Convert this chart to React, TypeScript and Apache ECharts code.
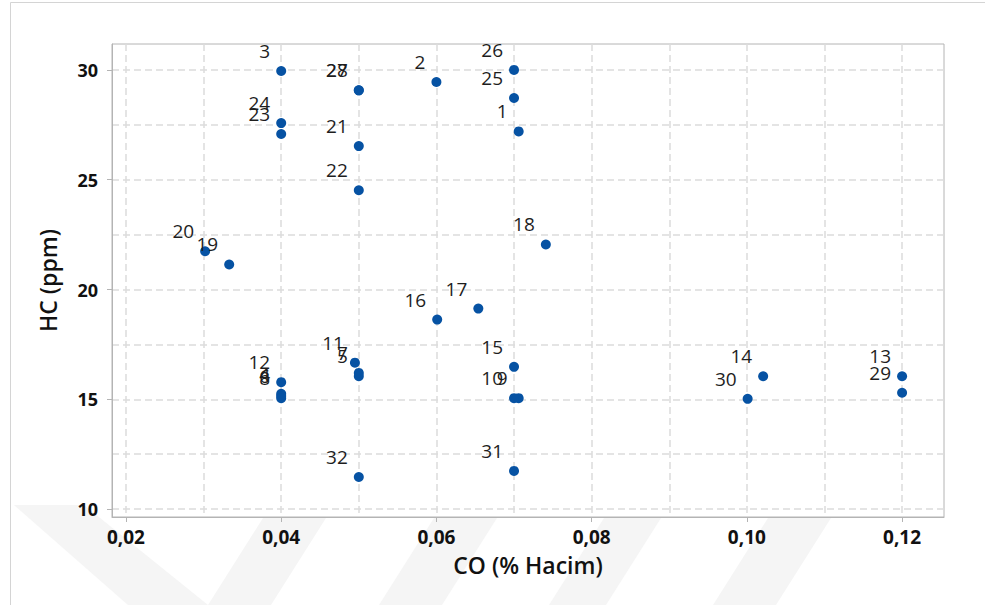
import React, { useEffect, useRef } from "react";
import * as echarts from "echarts";

const pointIds = [1, 2, 3, 4, 5, 6, 7, 8, 9, 10, 11, 12, 13, 14, 15, 16, 17, 18, 19, 20, 21, 22, 23, 24, 25, 26, 27, 28, 29, 30, 31, 32];
const coValues = [0.0706, 0.06, 0.04, 0.04, 0.05, 0.04, 0.05, 0.04, 0.0706, 0.07, 0.0495, 0.04, 0.12, 0.1021, 0.07, 0.0601, 0.0654, 0.0741, 0.0333, 0.0302, 0.05, 0.05, 0.04, 0.04, 0.07, 0.07, 0.05, 0.05, 0.12, 0.1001, 0.07, 0.05];
const hcValues = [27.2, 29.45, 29.95, 15.25, 16.05, 15.15, 16.2, 15.05, 15.05, 15.05, 16.67, 15.78, 16.05, 16.05, 16.48, 18.63, 19.13, 22.05, 21.14, 21.74, 26.53, 24.52, 27.08, 27.58, 28.72, 30.0, 29.07, 29.07, 15.3, 15.02, 11.74, 11.46];

const xTickLabels = [0.02, 0.04, 0.06, 0.08, 0.1, 0.12];
const xGridValues = [0.02, 0.03, 0.04, 0.05, 0.06, 0.07, 0.08, 0.09, 0.1, 0.11, 0.12];
const yTickLabels = [10, 15, 20, 25, 30];
const yGridValues = [10, 12.5, 15, 17.5, 20, 22.5, 25, 27.5, 30];

const X_MIN = 0.0182;
const X_MAX = 0.1254;
const Y_MIN = 9.64;
const Y_MAX = 31.18;

const FRAME = "#b4b4b4";
const GRIDC = "#dcdcdc";

export default function App() {
  const ref = useRef<HTMLDivElement>(null);
  useEffect(() => {
    if (!ref.current) return;
    const chart = echarts.init(ref.current, undefined, { renderer: "svg" });
    const data = pointIds.map((id, i) => ({ value: [coValues[i], hcValues[i]], name: String(id) }));
    const wm = "#f5f5f5";
    const option: any = {
      animation: false,
      backgroundColor: "#ffffff",
      graphic: [
        { type: "rect", shape: { x: 10.5, y: 2.5, width: 990, height: 610 }, style: { fill: "none", stroke: "#d4d4d4", lineWidth: 1 }, z: -5 },
        { type: "polygon", shape: { points: [[14, 505], [84, 505], [208, 605], [128, 605]] }, style: { fill: wm }, z: -10 },
        { type: "polygon", shape: { points: [[208, 605], [271, 605], [326, 518], [263, 518]] }, style: { fill: wm }, z: -10 },
        { type: "polygon", shape: { points: [[379, 605], [442, 605], [497, 518], [434, 518]] }, style: { fill: wm }, z: -10 },
        { type: "polygon", shape: { points: [[549, 605], [606, 605], [661, 518], [604, 518]] }, style: { fill: wm }, z: -10 },
        { type: "polygon", shape: { points: [[713, 605], [776, 605], [831, 518], [768, 518]] }, style: { fill: wm }, z: -10 },
      ],
      grid: {
        left: 112,
        right: 41,
        top: 44,
        bottom: 88,
        show: true,
        borderColor: FRAME,
        borderWidth: 1,
        backgroundColor: "transparent",
      },
      xAxis: [
        {
          type: "value",
          min: X_MIN,
          max: X_MAX,
          position: "bottom",
          name: "CO (% Hacim)",
          nameLocation: "middle",
          nameGap: 36,
          nameTextStyle: { fontFamily: "Open Sans", fontSize: 23, fontWeight: 600, color: "#111" },
          axisLine: { show: true, lineStyle: { color: FRAME } },
          axisTick: { show: true, length: 5, lineStyle: { color: FRAME }, customValues: xTickLabels },
          axisLabel: {
            customValues: xTickLabels,
            margin: 10,
            fontFamily: "Open Sans",
            fontSize: 19,
            fontWeight: "bold",
            color: "#111",
            formatter: (v: number) => v.toFixed(2).replace(".", ","),
          },
          splitLine: { show: false },
        },
        {
          type: "value",
          min: X_MIN,
          max: X_MAX,
          position: "bottom",
          axisLine: { show: false },
          axisTick: { show: false, customValues: xGridValues },
          axisLabel: { show: false, customValues: xGridValues },
          splitLine: { show: true, lineStyle: { color: GRIDC, type: [7, 4], width: 1.5 } },
        },
      ],
      yAxis: [
        {
          type: "value",
          min: Y_MIN,
          max: Y_MAX,
          position: "left",
          name: "HC (ppm)",
          nameLocation: "middle",
          nameGap: 53,
          nameTextStyle: { fontFamily: "Open Sans", fontSize: 23, fontWeight: 600, color: "#111" },
          axisLine: { show: true, lineStyle: { color: FRAME } },
          axisTick: { show: true, length: 5, lineStyle: { color: FRAME }, customValues: yTickLabels },
          axisLabel: {
            customValues: yTickLabels,
            margin: 14,
            fontFamily: "Open Sans",
            fontSize: 18,
            fontWeight: "bold",
            color: "#111",
          },
          splitLine: { show: false },
        },
        {
          type: "value",
          min: Y_MIN,
          max: Y_MAX,
          position: "left",
          axisLine: { show: false },
          axisTick: { show: false, customValues: yGridValues },
          axisLabel: { show: false, customValues: yGridValues },
          splitLine: { show: true, lineStyle: { color: GRIDC, type: [7, 4], width: 1.5 } },
        },
      ],
      series: [
        {
          type: "scatter",
          xAxisIndex: 0,
          yAxisIndex: 0,
          data,
          symbol: "circle",
          symbolSize: 10,
          itemStyle: { color: "#0652a3", opacity: 1 },
          label: {
            show: true,
            position: "inside",
            align: "right",
            offset: [-11, -20],
            formatter: (p: any) => p.name,
            fontFamily: "Open Sans",
            fontSize: 19,
            color: "#1e1e1e",
            opacity: 1,
          },
          emphasis: { disabled: true },
        },
      ],
    };
    chart.setOption(option);
    return () => chart.dispose();
  }, []);
  return (
    <div
      ref={ref}
      style={{ position: "absolute", left: 0, top: 0, width: 985, height: 605 }}
    />
  );
}
